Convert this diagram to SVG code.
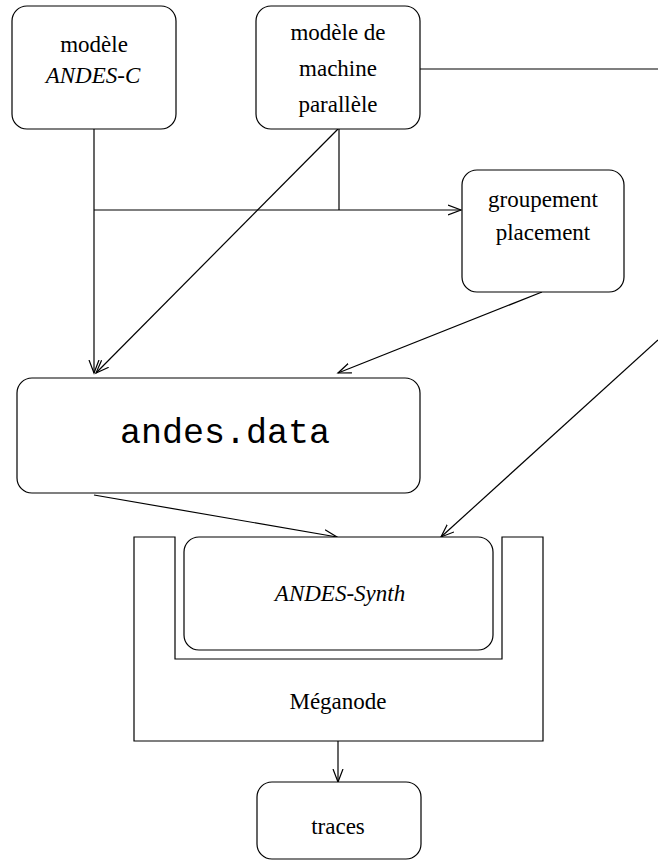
<svg xmlns="http://www.w3.org/2000/svg" width="658" height="862" viewBox="0 0 658 862">
<style>
.box{fill:#fff;stroke:#000;stroke-width:1.2}
.ln{fill:none;stroke:#000;stroke-width:1.2}
.t{font-family:"Liberation Serif","Times New Roman",serif;font-size:23px;fill:#000;text-anchor:middle}
.i{font-style:italic}
.m{font-family:"Liberation Mono","Courier New",monospace;font-size:35px;fill:#000;text-anchor:middle}
</style>
<defs>
<marker id="arr" markerUnits="userSpaceOnUse" markerWidth="16" markerHeight="14" refX="13" refY="6" orient="auto">
<path d="M0,1 L13,6 L0,11" fill="none" stroke="#000" stroke-width="1.2"/>
</marker>
</defs>
<rect width="658" height="862" fill="#fff"/>
<g id="connectors">
<line class="ln" x1="94" y1="129" x2="94" y2="373" marker-end="url(#arr)"/>
<line class="ln" x1="94" y1="210" x2="461" y2="210" marker-end="url(#arr)"/>
<line class="ln" x1="339" y1="129" x2="339" y2="210"/>
<line class="ln" x1="338" y1="129" x2="96" y2="373" marker-end="url(#arr)"/>
<line class="ln" x1="542" y1="292" x2="338" y2="373" marker-end="url(#arr)"/>
<line class="ln" x1="420" y1="69" x2="658" y2="69"/>
<line class="ln" x1="658" y1="340" x2="441" y2="537" marker-end="url(#arr)"/>
<line class="ln" x1="94" y1="495" x2="337" y2="537" marker-end="url(#arr)"/>
<line class="ln" x1="338" y1="741" x2="338" y2="782" marker-end="url(#arr)"/>
</g>
<g id="node-andes-c">
<rect class="box" x="12" y="6" width="164" height="123" rx="15"/>
<text class="t" x="94" y="52">modèle</text>
<text class="t i" x="93" y="83">ANDES-C</text>
</g>
<g id="node-machine">
<rect class="box" x="256" y="6" width="164" height="123" rx="15"/>
<text class="t" x="338" y="40">modèle de</text>
<text class="t" x="338" y="76">machine</text>
<text class="t" x="338" y="112">parallèle</text>
</g>
<g id="node-groupement">
<rect class="box" x="462" y="170" width="162" height="122" rx="15"/>
<text class="t" x="543" y="207">groupement</text>
<text class="t" x="543" y="240">placement</text>
</g>
<g id="node-andes-data">
<rect class="box" x="17" y="378" width="403" height="115" rx="15"/>
<text class="m" x="225" y="443">andes.data</text>
</g>
<g id="node-meganode">
<path class="box" d="M134,537 L175,537 L175,659 L502,659 L502,537 L543,537 L543,741 L134,741 Z"/>
<text class="t" x="338" y="709">Méganode</text>
</g>
<g id="node-andes-synth">
<rect class="box" x="184" y="537" width="309" height="113" rx="15"/>
<text class="t i" x="340" y="601">ANDES-Synth</text>
</g>
<g id="node-traces">
<rect class="box" x="257" y="782" width="164" height="77" rx="15"/>
<text class="t" x="338" y="834">traces</text>
</g>
</svg>
